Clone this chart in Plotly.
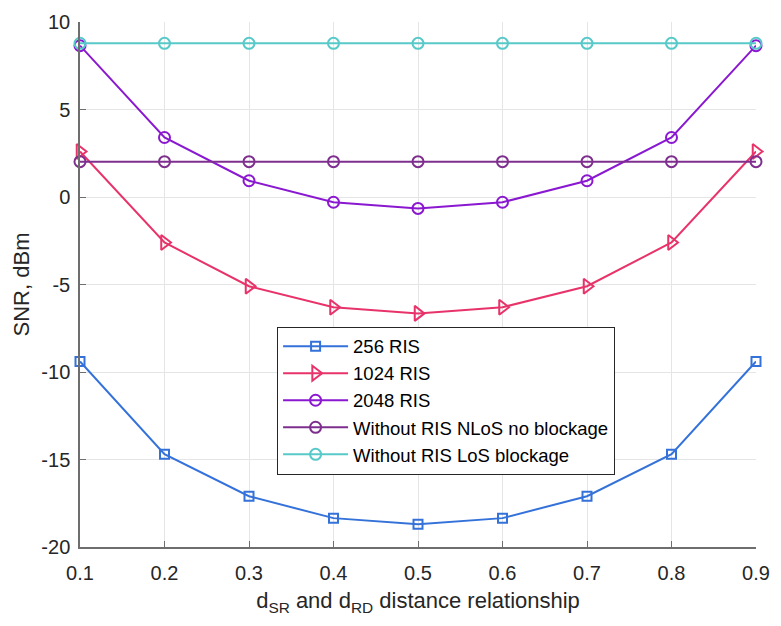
import plotly.graph_objects as go

x_vals = [0.1, 0.2, 0.3, 0.4, 0.5, 0.6, 0.7, 0.8, 0.9]
ris_256 = [-9.4, -14.7, -17.1, -18.35, -18.7, -18.35, -17.1, -14.7, -9.4]
ris_1024 = [2.6, -2.6, -5.1, -6.3, -6.65, -6.3, -5.1, -2.6, 2.6]
ris_2048 = [8.65, 3.4, 0.93, -0.3, -0.65, -0.3, 0.93, 3.4, 8.65]
nlos_no_block = [2.02] * 9
los_block = [8.78] * 9

x_ticks = [0.1, 0.2, 0.3, 0.4, 0.5, 0.6, 0.7, 0.8, 0.9]
y_ticks = [-20, -15, -10, -5, 0, 5, 10]
y_tick_labels = ["-20", "-15", "-10", "-5", "0", "5", "10"]

series = [
    ("256 RIS", ris_256, "#3472DA", "square-open", 9),
    ("1024 RIS", ris_1024, "#E8336A", "triangle-right-open", 13),
    ("2048 RIS", ris_2048, "#8A18D0", "circle-open", 11),
    ("Without RIS NLoS no blockage", nlos_no_block, "#7E2F8E", "circle-open", 11),
    ("Without RIS LoS blockage", los_block, "#58C9C9", "circle-open", 11),
]

fig = go.Figure()
for i, (name, ys, color, sym, size) in enumerate(series):
    fig.add_trace(go.Scatter(
        x=x_vals, y=ys, name=name, mode="lines+markers",
        line=dict(color=color, width=2),
        marker=dict(symbol=sym, size=size, color=color, line=dict(color=color, width=2)),
        cliponaxis=False,
    ))

axis_color = "#6e6e6e"
font_family = "Liberation Sans, Arial, sans-serif"

fig.update_layout(
    width=781, height=626,
    margin=dict(l=80, r=15, t=11, b=79),
    paper_bgcolor="white", plot_bgcolor="white",
    font=dict(family=font_family, size=20, color="#262626"),
    showlegend=True,
    legend=dict(
        x=(280 - 80) / 686, y=(547 - 322) / 536,
        xanchor="left", yanchor="top",
        bgcolor="white", bordercolor="#262626", borderwidth=1,
        font=dict(size=18.5, color="#000000"),
        tracegroupgap=0, itemwidth=65,
    ),
    xaxis=dict(
        range=[0.1, 0.9], tickvals=x_ticks, ticktext=[f"{v:.1f}" for v in x_ticks],
        showgrid=True, gridcolor="#e5e5e5", gridwidth=1,
        showline=True, linecolor=axis_color, linewidth=1.5,
        ticks="inside", ticklen=6, tickcolor=axis_color,
        zeroline=False, ticklabelstandoff=7,
        tickfont=dict(size=20),
        title=dict(text="d<sub>SR</sub> and d<sub>RD</sub> distance relationship",
                   font=dict(size=22), standoff=10),
    ),
    yaxis=dict(
        range=[-20, 10], tickvals=y_ticks, ticktext=y_tick_labels,
        showgrid=True, gridcolor="#e5e5e5", gridwidth=1,
        showline=True, linecolor=axis_color, linewidth=1.5,
        ticks="inside", ticklen=6, tickcolor=axis_color,
        zeroline=False, ticklabelstandoff=4,
        tickfont=dict(size=20),
        title=dict(text="SNR, dBm", font=dict(size=22), standoff=6),
    ),
)

fig.write_html("out.html", config={"displayModeBar": False},
               post_script="document.body.style.margin='0';")
